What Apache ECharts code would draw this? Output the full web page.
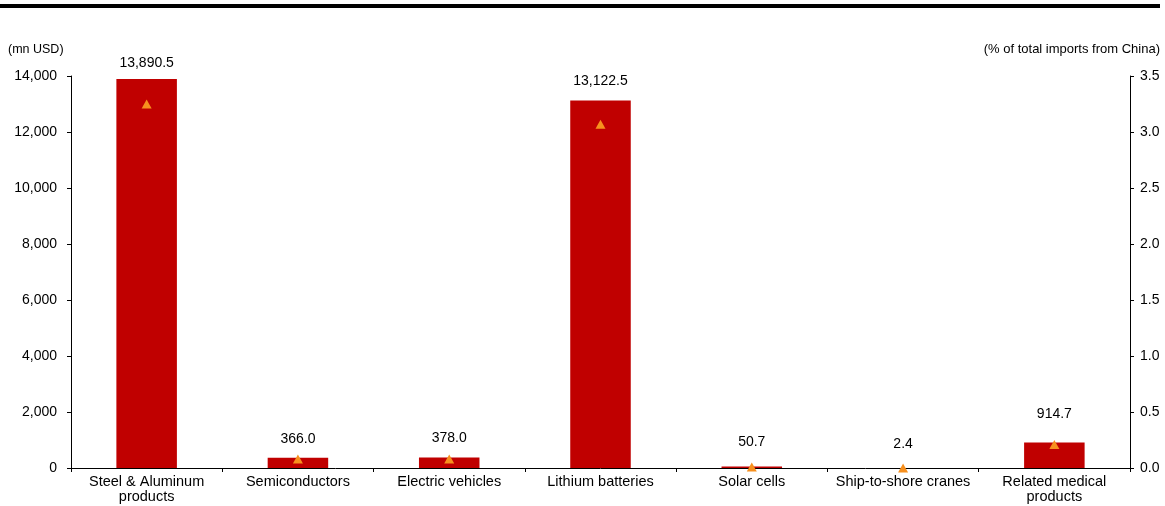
<!DOCTYPE html>
<html>
<head>
<meta charset="utf-8">
<script src="https://cdn.jsdelivr.net/npm/echarts@6/dist/echarts.min.js"></script>
<style>html,body{margin:0;padding:0;background:#fff}#c{width:1165px;height:506px}</style>
</head>
<body>
<div id="c"></div>
<script>
const categories = ['Steel & Aluminum\nproducts', 'Semiconductors', 'Electric vehicles', 'Lithium batteries', 'Solar cells', 'Ship-to-shore cranes', 'Related medical\nproducts'];
const importValues = [13890.5, 366.0, 378.0, 13122.5, 50.7, 2.4, 914.7];
const shareValues = [3.25, 0.08, 0.08, 3.07, 0.01, 0.0, 0.21];
const leftTicks = [0, 14000, 2000];
const rightTicks = [0, 3.5, 0.5];

const labelGap = [9, 12, 12, 12, 17, 17, 21];
const font = 'Liberation Sans, Arial, sans-serif';

const chart = echarts.init(document.getElementById('c'));
chart.setOption({
  animation: false,
  textStyle: { fontFamily: font },
  grid: { left: 71, right: 35, top: 76, bottom: 38, containLabel: false },
  graphic: [{ type: 'rect', shape: { x: 0, y: 4, width: 1160, height: 4 }, style: { fill: '#000' } }],
  xAxis: {
    type: 'category', data: categories,
    axisLine: { lineStyle: { color: '#000', width: 1 } },
    axisTick: { show: true, length: 4, lineStyle: { color: '#000' } },
    axisLabel: { color: '#000', fontSize: 14.5, fontFamily: font, interval: 0, margin: 6, lineHeight: 15 }
  },
  yAxis: [{
    type: 'value', min: leftTicks[0], max: leftTicks[1], interval: leftTicks[2],
    name: '(mn USD)', nameLocation: 'end', nameGap: 20,
    nameTextStyle: { color: '#000', fontSize: 12.5, align: 'left', padding: [0, 0, 0, -63] },
    splitLine: { show: false },
    axisLine: { show: true, lineStyle: { color: '#000' } },
    axisTick: { show: true, length: 4, lineStyle: { color: '#000' } },
    axisLabel: { color: '#000', fontSize: 14, margin: 14, formatter: v => v.toLocaleString('en-US') }
  }, {
    type: 'value', min: rightTicks[0], max: rightTicks[1], interval: rightTicks[2], position: 'right',
    name: '(% of total imports from China)', nameLocation: 'end', nameGap: 20,
    nameTextStyle: { color: '#000', fontSize: 13, align: 'right', padding: [0, -30, 0, 0] },
    splitLine: { show: false },
    axisLine: { show: true, lineStyle: { color: '#000' } },
    axisTick: { show: true, length: 4, lineStyle: { color: '#000' } },
    axisLabel: { color: '#000', fontSize: 14, margin: 10, formatter: v => v.toFixed(1) }
  }],
  series: [{
    type: 'bar', yAxisIndex: 0, barWidth: '40%',
    data: importValues.map((v, i) => ({ value: v, label: { distance: labelGap[i] } })),
    itemStyle: { color: '#C00000' },
    label: { show: true, position: 'top', color: '#000', fontSize: 14, fontFamily: font,
      formatter: p => p.value.toLocaleString('en-US', { minimumFractionDigits: 1, maximumFractionDigits: 1 }) }
  }, {
    type: 'line', yAxisIndex: 1, data: shareValues,
    lineStyle: { width: 0, opacity: 0 }, symbol: 'triangle', symbolSize: [10, 9],
    itemStyle: { color: '#F7901E' }, z: 5
  }]
});
</script>
</body>
</html>
